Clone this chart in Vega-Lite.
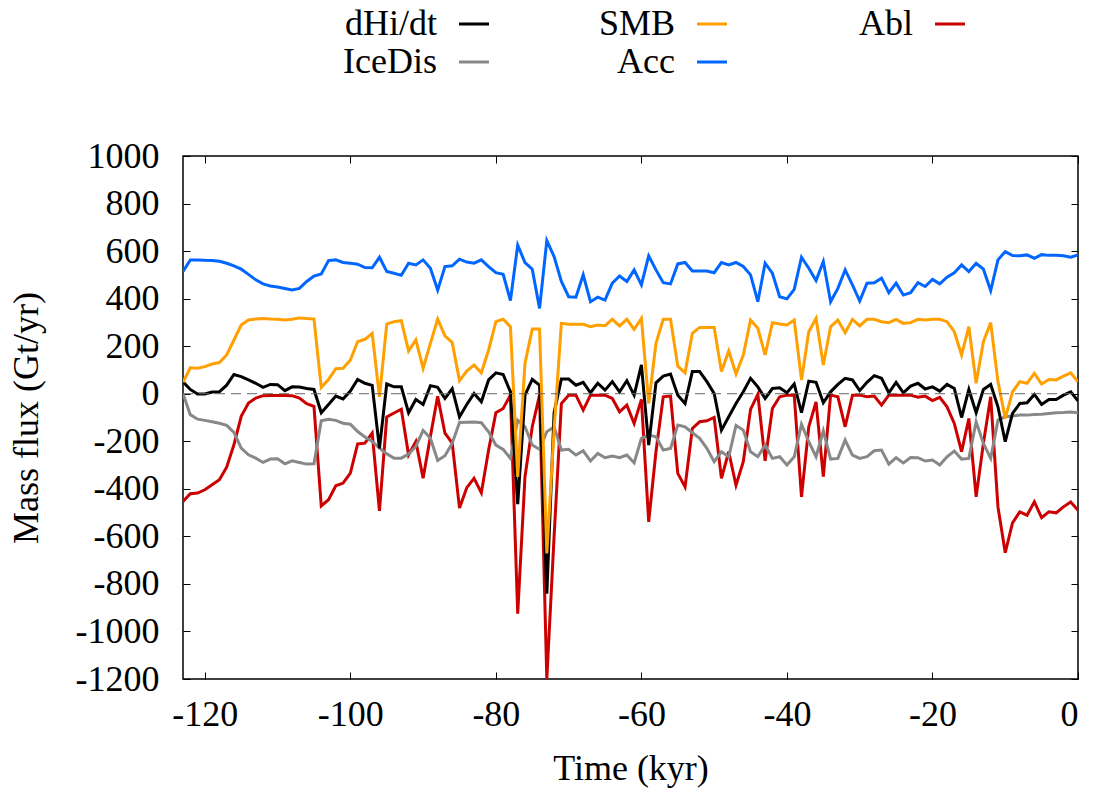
{
 "$schema": "https://vega.github.io/schema/vega-lite/v6.json",
 "width": 895, "height": 523,
 "autosize": {"type": "none"},
 "padding": {"left": 183, "top": 156, "right": 20, "bottom": 119},
 "background": "white",
 "config": {
  "font": "Liberation Serif",
  "view": {"stroke": "black", "strokeWidth": 1.5},
  "style": {"guide-label": {"font": "Liberation Serif", "fontSize": 36, "fill": "black"},
            "guide-title": {"font": "Liberation Serif", "fontSize": 36, "fontWeight": "normal", "fill": "black"}},
  "axis": {"grid": false, "domain": false, "tickColor": "black", "tickWidth": 1, "tickSize": -7,
           "labelFont": "Liberation Serif", "labelFontSize": 36, "labelColor": "black",
           "titleFont": "Liberation Serif", "titleFontSize": 36, "titleFontWeight": "normal", "titleColor": "black"},
  "text": {"font": "Liberation Serif"}
 },
 "data": {"values": [
  {"t":-123,"dHi/dt":50,"SMB":48,"Abl":-453,"IceDis":0,"Acc":514},
  {"t":-122,"dHi/dt":18,"SMB":109,"Abl":-421,"IceDis":-88,"Acc":563},
  {"t":-121,"dHi/dt":-1,"SMB":107,"Abl":-418,"IceDis":-107,"Acc":563},
  {"t":-120,"dHi/dt":-1,"SMB":114,"Abl":-404,"IceDis":-112,"Acc":561},
  {"t":-119,"dHi/dt":7,"SMB":125,"Abl":-383,"IceDis":-118,"Acc":560},
  {"t":-118,"dHi/dt":8,"SMB":131,"Abl":-362,"IceDis":-124,"Acc":557},
  {"t":-117,"dHi/dt":36,"SMB":163,"Abl":-309,"IceDis":-133,"Acc":549},
  {"t":-116,"dHi/dt":81,"SMB":226,"Abl":-215,"IceDis":-163,"Acc":538},
  {"t":-115,"dHi/dt":72,"SMB":289,"Abl":-95,"IceDis":-229,"Acc":524},
  {"t":-114,"dHi/dt":58,"SMB":310,"Abl":-39,"IceDis":-257,"Acc":502},
  {"t":-113,"dHi/dt":44,"SMB":314,"Abl":-18,"IceDis":-271,"Acc":479},
  {"t":-112,"dHi/dt":27,"SMB":316,"Abl":-8,"IceDis":-289,"Acc":462},
  {"t":-111,"dHi/dt":39,"SMB":314,"Abl":-7,"IceDis":-275,"Acc":453},
  {"t":-110,"dHi/dt":38,"SMB":313,"Abl":-7,"IceDis":-274,"Acc":449},
  {"t":-109,"dHi/dt":13,"SMB":310,"Abl":-7,"IceDis":-295,"Acc":443},
  {"t":-108,"dHi/dt":29,"SMB":313,"Abl":-8,"IceDis":-282,"Acc":436},
  {"t":-107,"dHi/dt":28,"SMB":319,"Abl":-18,"IceDis":-289,"Acc":443},
  {"t":-106,"dHi/dt":22,"SMB":316,"Abl":-42,"IceDis":-296,"Acc":472},
  {"t":-105,"dHi/dt":18,"SMB":314,"Abl":-53,"IceDis":-295,"Acc":495},
  {"t":-104,"dHi/dt":-80,"SMB":27,"Abl":-472,"IceDis":-114,"Acc":504},
  {"t":-103,"dHi/dt":-45,"SMB":60,"Abl":-446,"IceDis":-107,"Acc":560},
  {"t":-102,"dHi/dt":-10,"SMB":105,"Abl":-387,"IceDis":-112,"Acc":563},
  {"t":-101,"dHi/dt":-22,"SMB":107,"Abl":-376,"IceDis":-124,"Acc":552},
  {"t":-100,"dHi/dt":11,"SMB":142,"Abl":-334,"IceDis":-128,"Acc":549},
  {"t":-99,"dHi/dt":60,"SMB":219,"Abl":-211,"IceDis":-159,"Acc":545},
  {"t":-98,"dHi/dt":44,"SMB":229,"Abl":-208,"IceDis":-182,"Acc":531},
  {"t":-97,"dHi/dt":35,"SMB":254,"Abl":-166,"IceDis":-201,"Acc":530},
  {"t":-96,"dHi/dt":-230,"SMB":-13,"Abl":-493,"IceDis":-229,"Acc":574},
  {"t":-95,"dHi/dt":41,"SMB":293,"Abl":-98,"IceDis":-253,"Acc":514},
  {"t":-94,"dHi/dt":29,"SMB":303,"Abl":-81,"IceDis":-271,"Acc":507},
  {"t":-93,"dHi/dt":29,"SMB":307,"Abl":-65,"IceDis":-271,"Acc":498},
  {"t":-92,"dHi/dt":-80,"SMB":180,"Abl":-257,"IceDis":-254,"Acc":549},
  {"t":-91,"dHi/dt":-24,"SMB":226,"Abl":-201,"IceDis":-222,"Acc":542},
  {"t":-90,"dHi/dt":-45,"SMB":107,"Abl":-355,"IceDis":-154,"Acc":563},
  {"t":-89,"dHi/dt":34,"SMB":212,"Abl":-180,"IceDis":-187,"Acc":528},
  {"t":-88,"dHi/dt":27,"SMB":314,"Abl":-11,"IceDis":-281,"Acc":436},
  {"t":-87,"dHi/dt":-20,"SMB":243,"Abl":-166,"IceDis":-261,"Acc":535},
  {"t":-86,"dHi/dt":21,"SMB":215,"Abl":-208,"IceDis":-208,"Acc":538},
  {"t":-85,"dHi/dt":-97,"SMB":55,"Abl":-481,"IceDis":-121,"Acc":566},
  {"t":-84,"dHi/dt":-45,"SMB":95,"Abl":-395,"IceDis":-120,"Acc":554},
  {"t":-83,"dHi/dt":1,"SMB":121,"Abl":-356,"IceDis":-119,"Acc":549},
  {"t":-82,"dHi/dt":-34,"SMB":88,"Abl":-417,"IceDis":-122,"Acc":563},
  {"t":-81,"dHi/dt":58,"SMB":184,"Abl":-237,"IceDis":-160,"Acc":535},
  {"t":-80,"dHi/dt":88,"SMB":303,"Abl":-80,"IceDis":-216,"Acc":509},
  {"t":-79,"dHi/dt":81,"SMB":313,"Abl":-62,"IceDis":-234,"Acc":502},
  {"t":-78,"dHi/dt":8,"SMB":282,"Abl":-6,"IceDis":-272,"Acc":392},
  {"t":-77,"dHi/dt":-465,"SMB":-350,"Abl":-925,"IceDis":-111,"Acc":625},
  {"t":-76,"dHi/dt":-6,"SMB":128,"Abl":-349,"IceDis":-139,"Acc":552},
  {"t":-75,"dHi/dt":60,"SMB":272,"Abl":-139,"IceDis":-216,"Acc":524},
  {"t":-74,"dHi/dt":36,"SMB":272,"Abl":-6,"IceDis":-234,"Acc":359},
  {"t":-73,"dHi/dt":-841,"SMB":-672,"Abl":-1200,"IceDis":-160,"Acc":644},
  {"t":-72,"dHi/dt":-80,"SMB":-150,"Abl":-600,"IceDis":-139,"Acc":577},
  {"t":-71,"dHi/dt":62,"SMB":296,"Abl":-41,"IceDis":-237,"Acc":472},
  {"t":-70,"dHi/dt":62,"SMB":292,"Abl":-6,"IceDis":-234,"Acc":408},
  {"t":-69,"dHi/dt":36,"SMB":292,"Abl":-6,"IceDis":-258,"Acc":406},
  {"t":-68,"dHi/dt":48,"SMB":292,"Abl":-69,"IceDis":-240,"Acc":500},
  {"t":-67,"dHi/dt":4,"SMB":282,"Abl":-6,"IceDis":-283,"Acc":387},
  {"t":-66,"dHi/dt":44,"SMB":289,"Abl":-6,"IceDis":-251,"Acc":406},
  {"t":-65,"dHi/dt":15,"SMB":286,"Abl":-6,"IceDis":-269,"Acc":394},
  {"t":-64,"dHi/dt":51,"SMB":313,"Abl":-20,"IceDis":-262,"Acc":465},
  {"t":-63,"dHi/dt":8,"SMB":285,"Abl":-76,"IceDis":-269,"Acc":495},
  {"t":-62,"dHi/dt":55,"SMB":313,"Abl":-48,"IceDis":-258,"Acc":472},
  {"t":-61,"dHi/dt":-6,"SMB":271,"Abl":-125,"IceDis":-291,"Acc":521},
  {"t":-60,"dHi/dt":121,"SMB":317,"Abl":-24,"IceDis":-188,"Acc":458},
  {"t":-59,"dHi/dt":-216,"SMB":-41,"Abl":-539,"IceDis":-174,"Acc":580},
  {"t":-58,"dHi/dt":46,"SMB":212,"Abl":-244,"IceDis":-181,"Acc":521},
  {"t":-57,"dHi/dt":74,"SMB":313,"Abl":-13,"IceDis":-237,"Acc":467},
  {"t":-56,"dHi/dt":83,"SMB":313,"Abl":-10,"IceDis":-230,"Acc":462},
  {"t":-55,"dHi/dt":-6,"SMB":116,"Abl":-335,"IceDis":-132,"Acc":546},
  {"t":-54,"dHi/dt":-41,"SMB":88,"Abl":-392,"IceDis":-139,"Acc":552},
  {"t":-53,"dHi/dt":93,"SMB":254,"Abl":-146,"IceDis":-164,"Acc":516},
  {"t":-52,"dHi/dt":93,"SMB":279,"Abl":-118,"IceDis":-188,"Acc":516},
  {"t":-51,"dHi/dt":51,"SMB":279,"Abl":-114,"IceDis":-230,"Acc":516},
  {"t":-50,"dHi/dt":1,"SMB":279,"Abl":-100,"IceDis":-286,"Acc":509},
  {"t":-49,"dHi/dt":-153,"SMB":93,"Abl":-356,"IceDis":-244,"Acc":552},
  {"t":-48,"dHi/dt":-97,"SMB":180,"Abl":-244,"IceDis":-265,"Acc":542},
  {"t":-47,"dHi/dt":-41,"SMB":83,"Abl":-385,"IceDis":-133,"Acc":552},
  {"t":-46,"dHi/dt":8,"SMB":163,"Abl":-286,"IceDis":-153,"Acc":535},
  {"t":-45,"dHi/dt":65,"SMB":310,"Abl":-66,"IceDis":-244,"Acc":500},
  {"t":-44,"dHi/dt":29,"SMB":275,"Abl":-3,"IceDis":-265,"Acc":387},
  {"t":-43,"dHi/dt":-20,"SMB":163,"Abl":-282,"IceDis":-216,"Acc":549},
  {"t":-42,"dHi/dt":22,"SMB":299,"Abl":-62,"IceDis":-272,"Acc":507},
  {"t":-41,"dHi/dt":25,"SMB":293,"Abl":-13,"IceDis":-265,"Acc":408},
  {"t":-40,"dHi/dt":4,"SMB":289,"Abl":-6,"IceDis":-300,"Acc":399},
  {"t":-39,"dHi/dt":41,"SMB":310,"Abl":-6,"IceDis":-265,"Acc":439},
  {"t":-38,"dHi/dt":-80,"SMB":58,"Abl":-434,"IceDis":-128,"Acc":574},
  {"t":-37,"dHi/dt":53,"SMB":261,"Abl":-139,"IceDis":-202,"Acc":528},
  {"t":-36,"dHi/dt":48,"SMB":317,"Abl":-34,"IceDis":-265,"Acc":476},
  {"t":-35,"dHi/dt":-38,"SMB":121,"Abl":-349,"IceDis":-156,"Acc":556},
  {"t":-34,"dHi/dt":8,"SMB":282,"Abl":-6,"IceDis":-275,"Acc":387},
  {"t":-33,"dHi/dt":39,"SMB":310,"Abl":-13,"IceDis":-272,"Acc":443},
  {"t":-32,"dHi/dt":65,"SMB":257,"Abl":-139,"IceDis":-195,"Acc":521},
  {"t":-31,"dHi/dt":58,"SMB":313,"Abl":-6,"IceDis":-258,"Acc":458},
  {"t":-30,"dHi/dt":13,"SMB":285,"Abl":-6,"IceDis":-272,"Acc":390},
  {"t":-29,"dHi/dt":48,"SMB":313,"Abl":-13,"IceDis":-265,"Acc":465},
  {"t":-28,"dHi/dt":76,"SMB":313,"Abl":-10,"IceDis":-240,"Acc":467},
  {"t":-27,"dHi/dt":65,"SMB":303,"Abl":-48,"IceDis":-237,"Acc":486},
  {"t":-26,"dHi/dt":4,"SMB":299,"Abl":-6,"IceDis":-296,"Acc":425},
  {"t":-25,"dHi/dt":48,"SMB":313,"Abl":-6,"IceDis":-269,"Acc":465},
  {"t":-24,"dHi/dt":4,"SMB":296,"Abl":-6,"IceDis":-291,"Acc":415},
  {"t":-23,"dHi/dt":32,"SMB":299,"Abl":-6,"IceDis":-268,"Acc":425},
  {"t":-22,"dHi/dt":44,"SMB":313,"Abl":-15,"IceDis":-269,"Acc":467},
  {"t":-21,"dHi/dt":20,"SMB":310,"Abl":-10,"IceDis":-283,"Acc":451},
  {"t":-20,"dHi/dt":29,"SMB":313,"Abl":-29,"IceDis":-279,"Acc":481},
  {"t":-19,"dHi/dt":11,"SMB":313,"Abl":-15,"IceDis":-300,"Acc":462},
  {"t":-18,"dHi/dt":39,"SMB":303,"Abl":-55,"IceDis":-265,"Acc":490},
  {"t":-17,"dHi/dt":22,"SMB":261,"Abl":-125,"IceDis":-241,"Acc":509},
  {"t":-16,"dHi/dt":-100,"SMB":163,"Abl":-244,"IceDis":-275,"Acc":542},
  {"t":-15,"dHi/dt":18,"SMB":282,"Abl":-104,"IceDis":-272,"Acc":514},
  {"t":-14,"dHi/dt":-80,"SMB":44,"Abl":-434,"IceDis":-118,"Acc":549},
  {"t":-13,"dHi/dt":18,"SMB":219,"Abl":-209,"IceDis":-209,"Acc":524},
  {"t":-12,"dHi/dt":39,"SMB":299,"Abl":-13,"IceDis":-272,"Acc":434},
  {"t":-11,"dHi/dt":-55,"SMB":51,"Abl":-476,"IceDis":-111,"Acc":563},
  {"t":-10,"dHi/dt":-202,"SMB":-104,"Abl":-669,"IceDis":-97,"Acc":598},
  {"t":-9,"dHi/dt":-83,"SMB":8,"Abl":-543,"IceDis":-94,"Acc":581},
  {"t":-8,"dHi/dt":-41,"SMB":51,"Abl":-497,"IceDis":-90,"Acc":580},
  {"t":-7,"dHi/dt":-38,"SMB":44,"Abl":-511,"IceDis":-90,"Acc":584},
  {"t":-6,"dHi/dt":-3,"SMB":86,"Abl":-455,"IceDis":-87,"Acc":570},
  {"t":-5,"dHi/dt":-45,"SMB":41,"Abl":-521,"IceDis":-86,"Acc":585},
  {"t":-4,"dHi/dt":-24,"SMB":60,"Abl":-497,"IceDis":-83,"Acc":582},
  {"t":-3,"dHi/dt":-24,"SMB":58,"Abl":-501,"IceDis":-80,"Acc":582},
  {"t":-2,"dHi/dt":-6,"SMB":74,"Abl":-476,"IceDis":-79,"Acc":580},
  {"t":-1,"dHi/dt":8,"SMB":88,"Abl":-455,"IceDis":-77,"Acc":574},
  {"t":0,"dHi/dt":-30,"SMB":50,"Abl":-490,"IceDis":-80,"Acc":584}
 ]},
 "layer": [
  {
   "transform": [{"fold": ["Abl", "IceDis", "dHi/dt", "SMB", "Acc"], "as": ["series", "flux"]}],
   "mark": {"type": "line", "strokeWidth": 3, "clip": true},
   "encoding": {
    "x": {"field": "t", "type": "quantitative",
          "scale": {"domain": [-123, 0], "nice": false, "zero": false},
          "axis": {"orient": "bottom", "values": [-120, -100, -80, -60, -40, -20, 0],
                   "labelExpr": "toString(datum.value)", "labelPadding": 25,
                   "labelFont": "Liberation Serif", "labelFontSize": 36,
                   "title": "Time (kyr)", "titlePadding": 19}},
    "y": {"field": "flux", "type": "quantitative",
          "scale": {"domain": [-1200, 1000], "nice": false},
          "axis": {"orient": "left", "values": [-1200, -1000, -800, -600, -400, -200, 0, 200, 400, 600, 800, 1000],
                   "labelExpr": "toString(datum.value)", "labelPadding": 31,
                   "labelFont": "Liberation Serif", "labelFontSize": 36,
                   "title": "Mass flux (Gt/yr)", "titlePadding": 30}},
    "color": {"field": "series", "type": "nominal",
              "scale": {"domain": ["dHi/dt", "SMB", "Abl", "IceDis", "Acc"],
                        "range": ["#000000", "#ff9f00", "#cc0000", "#888888", "#0066ff"]},
              "legend": {"orient": "none", "legendX": 273, "legendY": -150, "columns": 3,
                         "direction": "horizontal", "title": null, "padding": 0,
                         "gridAlign": "all",
                         "symbolType": "stroke", "symbolSize": 900, "symbolStrokeWidth": 3,
                         "labelFont": "Liberation Serif", "labelFontSize": 36, "labelColor": "black",
                         "labelAlign": "right", "labelOffset": -55, "labelLimit": 400,
                         "rowPadding": 2, "columnPadding": 103}}
   }
  },
  {
   "data": {"values": [{}]},
   "mark": {"type": "rule", "strokeDash": [10, 6], "color": "#666666", "strokeWidth": 1},
   "encoding": {
    "x": {"datum": -123, "type": "quantitative",
          "axis": {"orient": "top", "values": [-120, -100, -80, -60, -40, -20, 0], "labels": false, "title": null}},
    "x2": {"datum": 0},
    "y": {"datum": 0, "type": "quantitative",
          "axis": {"orient": "right", "values": [-1200, -1000, -800, -600, -400, -200, 0, 200, 400, 600, 800, 1000], "labels": false, "title": null}}
   }
  }
 ],
 "resolve": {"axis": {"x": "independent", "y": "independent"}}
}
